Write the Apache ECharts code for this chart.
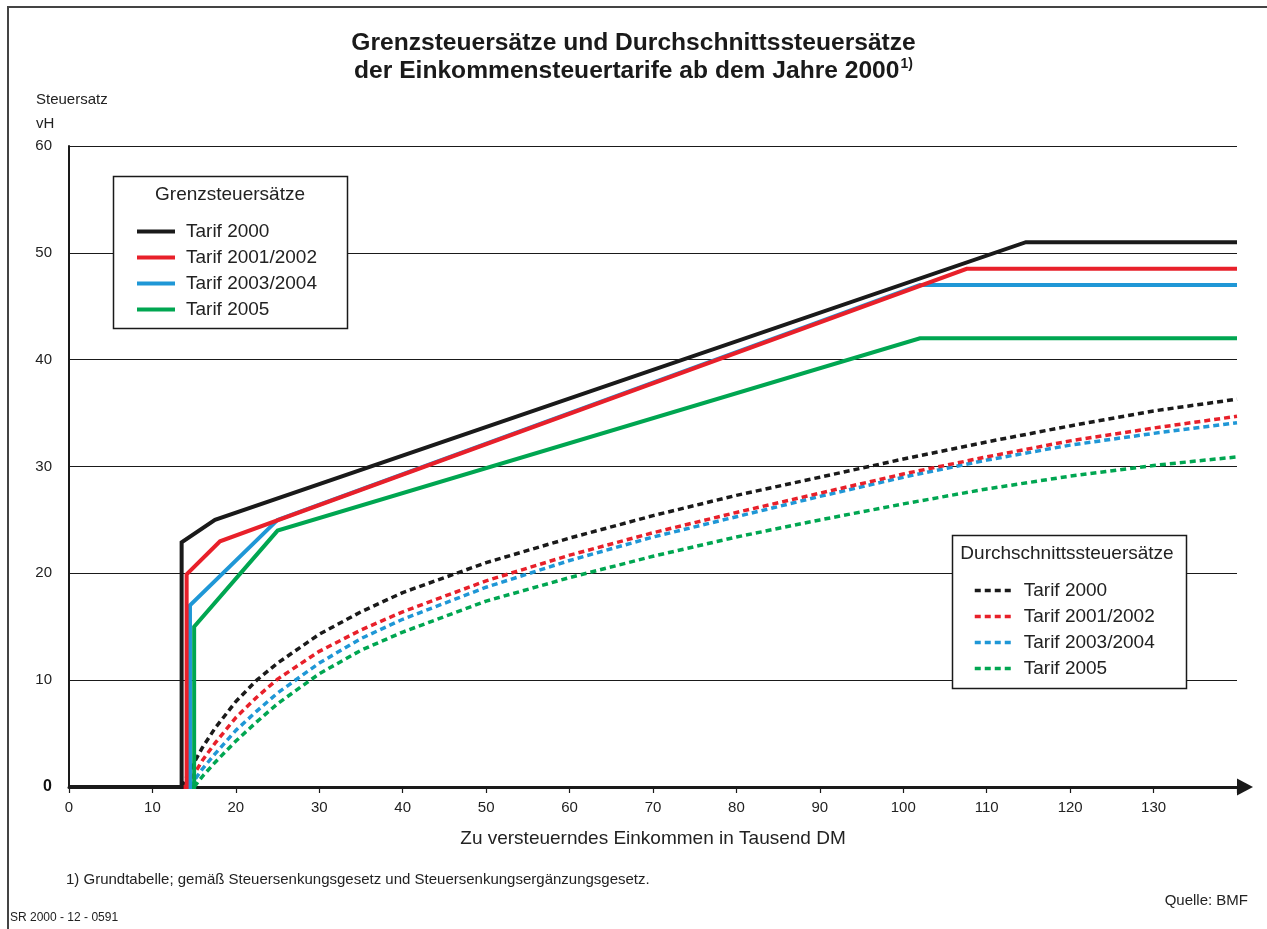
<!DOCTYPE html>
<html>
<head>
<meta charset="utf-8">
<script src="https://cdn.jsdelivr.net/npm/echarts@6/dist/echarts.min.js"></script>
<style>
html,body{margin:0;padding:0;background:#fff;}
#chart{width:1267px;height:929px;}
</style>
</head>
<body>
<div id="chart"></div>
<script>
// ---------- data ----------
const seriesNames = ['Tarif 2000', 'Tarif 2001/2002', 'Tarif 2003/2004', 'Tarif 2005'];
const seriesColors = ['#1a1a1a', '#e8202a', '#1f97d6', '#00a651'];

// Grenzsteuersätze (marginal rates): income in Tsd DM, rate in vH
const grenzX2000 = [0, 13.5, 13.5, 17.5, 114.7, 140];
const grenzY2000 = [0, 0, 22.9, 25, 51, 51];
const grenzX2001 = [0, 14.1, 14.1, 18.1, 107.6, 140];
const grenzY2001 = [0, 0, 19.9, 23, 48.5, 48.5];
const grenzX2003 = [0, 14.5, 14.5, 25, 102, 140];
const grenzY2003 = [0, 0, 17, 25, 47, 47];
const grenzX2005 = [0, 15, 15, 25, 102, 140];
const grenzY2005 = [0, 0, 15, 24, 42, 42];

// Durchschnittssteuersätze (average rates)
const avgX = [15, 16, 17.5, 20, 22.5, 25, 30, 35, 40, 50, 60, 70, 80, 90, 100, 110, 120, 130, 140];
const avgStart = [13.5, 14.1, 14.5, 15];
const avg2000 = [2.3, 3.7, 5.5, 8.0, 10.0, 11.6, 14.3, 16.4, 18.2, 21.0, 23.3, 25.4, 27.3, 29.0, 30.7, 32.3, 33.8, 35.2, 36.3];
const avg2001 = [1.2, 2.5, 4.1, 6.5, 8.4, 10.1, 12.7, 14.7, 16.4, 19.3, 21.7, 23.8, 25.7, 27.5, 29.3, 30.9, 32.4, 33.6, 34.7];
const avg2003 = [0.6, 1.7, 3.1, 5.3, 7.1, 8.8, 11.6, 13.9, 15.7, 18.7, 21.2, 23.4, 25.3, 27.2, 29.0, 30.6, 32.0, 33.1, 34.1];
const avg2005 = [0.0, 1.0, 2.3, 4.3, 6.1, 7.8, 10.6, 12.8, 14.5, 17.4, 19.6, 21.6, 23.4, 25.0, 26.5, 27.9, 29.1, 30.1, 30.9];

const xTicks = [0, 10, 20, 30, 40, 50, 60, 70, 80, 90, 100, 110, 120, 130];
const yTicks = [0, 10, 20, 30, 40, 50, 60];

// ---------- build ----------
const FONT = "'Liberation Sans', Arial, Helvetica, sans-serif";
const zip = (xs, ys) => xs.map((x, i) => [x, ys[i]]);
const grenzData = [zip(grenzX2000, grenzY2000), zip(grenzX2001, grenzY2001), zip(grenzX2003, grenzY2003), zip(grenzX2005, grenzY2005)];
const avgData = [avg2000, avg2001, avg2003, avg2005].map((ys, i) => [[avgStart[i], 0]].concat(zip(avgX, ys).filter(p => p[0] > avgStart[i])));

const order = [3, 2, 1, 0]; // draw green first, black last
const series = [];
order.forEach(i => series.push({
  name: 'G|' + seriesNames[i], type: 'line', data: grenzData[i], symbol: 'none',
  lineStyle: { color: seriesColors[i], width: 4, join: 'miter' }, itemStyle: { color: seriesColors[i] },
  z: 3, animation: false
}));
order.forEach(i => series.push({
  name: 'D|' + seriesNames[i], type: 'line', data: avgData[i], symbol: 'none', smooth: false,
  lineStyle: { color: seriesColors[i], width: 3.5, type: [6, 4] }, itemStyle: { color: seriesColors[i] },
  z: 2, animation: false
}));

const legendCommon = {
  orient: 'vertical', itemWidth: 38, itemHeight: 14, itemGap: 7,
  formatter: n => n.split('|')[1],
  textStyle: { fontFamily: FONT, fontSize: 19, color: '#222', lineHeight: 19, padding: [0, 0, 0, 6] },
  itemStyle: { opacity: 0 },
  selectedMode: false, z: 6
};

const chart = echarts.init(document.getElementById('chart'), null, { renderer: 'canvas' });
chart.setOption({
  animation: false,
  backgroundColor: '#fff',
  textStyle: { fontFamily: FONT },
  title: {
    left: 'center', top: 24, padding: [5, 5, 5, 17],
    text: '{t|Grenzsteuersätze und Durchschnittssteuersätze}\n{t|der Einkommensteuertarife ab dem Jahre 2000}{s|1)}',
    textStyle: {
      rich: {
        t: { fontFamily: FONT, fontSize: 24.6, fontWeight: 'bold', color: '#1a1a1a', lineHeight: 28 },
        s: { fontFamily: FONT, fontSize: 14, color: '#1a1a1a', verticalAlign: 'top', lineHeight: 14, padding: [0, 0, 0, 1] }
      }
    }
  },
  grid: { left: 69, right: 30, top: 146, bottom: 142, containLabel: false },
  xAxis: {
    type: 'value', min: 0, max: 140, interval: 10,
    name: 'Zu versteuerndes Einkommen in Tausend DM', nameLocation: 'middle', nameGap: 42,
    nameTextStyle: { fontFamily: FONT, fontSize: 19, color: '#222' },
    axisLine: { show: true, onZero: false, lineStyle: { color: '#1a1a1a', width: 3 },
      symbol: ['none', 'triangle'], symbolSize: [17, 16], symbolOffset: [0, 8] },
    axisTick: { show: true, length: 6, lineStyle: { color: '#1a1a1a', width: 1.2 } },
    axisLabel: { fontFamily: FONT, fontSize: 15, color: '#222', margin: 13,
      formatter: v => xTicks.indexOf(v) >= 0 ? String(v) : '' },
    splitLine: { show: false }
  },
  yAxis: {
    type: 'value', min: 0, max: 60, interval: 10,
    axisLine: { show: true, lineStyle: { color: '#1a1a1a', width: 2 } },
    axisTick: { show: false },
    axisLabel: { fontFamily: FONT, fontSize: 15, color: '#222', margin: 17,
      formatter: v => yTicks.indexOf(v) < 0 ? '' : (v === 0 ? '{z|0}' : String(v)),
      rich: { z: { fontFamily: FONT, fontSize: 16, fontWeight: 'bold', color: '#111' } } },
    splitLine: { show: true, lineStyle: { color: '#1a1a1a', width: 1.2 } }
  },
  legend: [
    Object.assign({}, legendCommon, {
      left: 130, top: 217,
      data: seriesNames.map(n => 'G|' + n),
      lineStyle: { width: 4 }
    }),
    Object.assign({}, legendCommon, {
      left: 968, top: 576,
      data: seriesNames.map(n => 'D|' + n),
      lineStyle: { width: 3.5 }
    })
  ],
  graphic: [
    { type: 'rect', shape: { x: 8, y: 7, width: 1300, height: 1000 }, style: { fill: 'none', stroke: '#444', lineWidth: 2 }, z: 10, silent: true },
    { type: 'rect', shape: { x: 113.5, y: 176.5, width: 234, height: 152 }, style: { fill: '#fff', stroke: '#1a1a1a', lineWidth: 1.5 }, z: 5 },
    { type: 'text', x: 230, y: 195, style: { text: 'Grenzsteuersätze', font: '19px ' + FONT, fill: '#222', textAlign: 'center', textVerticalAlign: 'middle' }, z: 6 },
    { type: 'rect', shape: { x: 952.5, y: 535.5, width: 234, height: 153 }, style: { fill: '#fff', stroke: '#1a1a1a', lineWidth: 1.5 }, z: 5 },
    { type: 'text', x: 1067, y: 554, style: { text: 'Durchschnittssteuersätze', font: '19px ' + FONT, fill: '#222', textAlign: 'center', textVerticalAlign: 'middle' }, z: 6 },
    { type: 'text', x: 36, y: 100, style: { text: 'Steuersatz', font: '15px ' + FONT, fill: '#222', textVerticalAlign: 'middle' } },
    { type: 'text', x: 36, y: 124, style: { text: 'vH', font: '15px ' + FONT, fill: '#222', textVerticalAlign: 'middle' } },
    { type: 'text', x: 66, y: 880, style: { text: '1) Grundtabelle; gemäß Steuersenkungsgesetz und Steuersenkungsergänzungsgesetz.', font: '15px ' + FONT, fill: '#222', textVerticalAlign: 'middle' } },
    { type: 'text', x: 1248, y: 901, style: { text: 'Quelle: BMF', font: '15px ' + FONT, fill: '#222', textAlign: 'right', textVerticalAlign: 'middle' } },
    { type: 'text', x: 10, y: 918, style: { text: 'SR 2000 - 12 - 0591', font: '12px ' + FONT, fill: '#222', textVerticalAlign: 'middle' } }
  ],
  series: series
});
</script>
</body>
</html>
